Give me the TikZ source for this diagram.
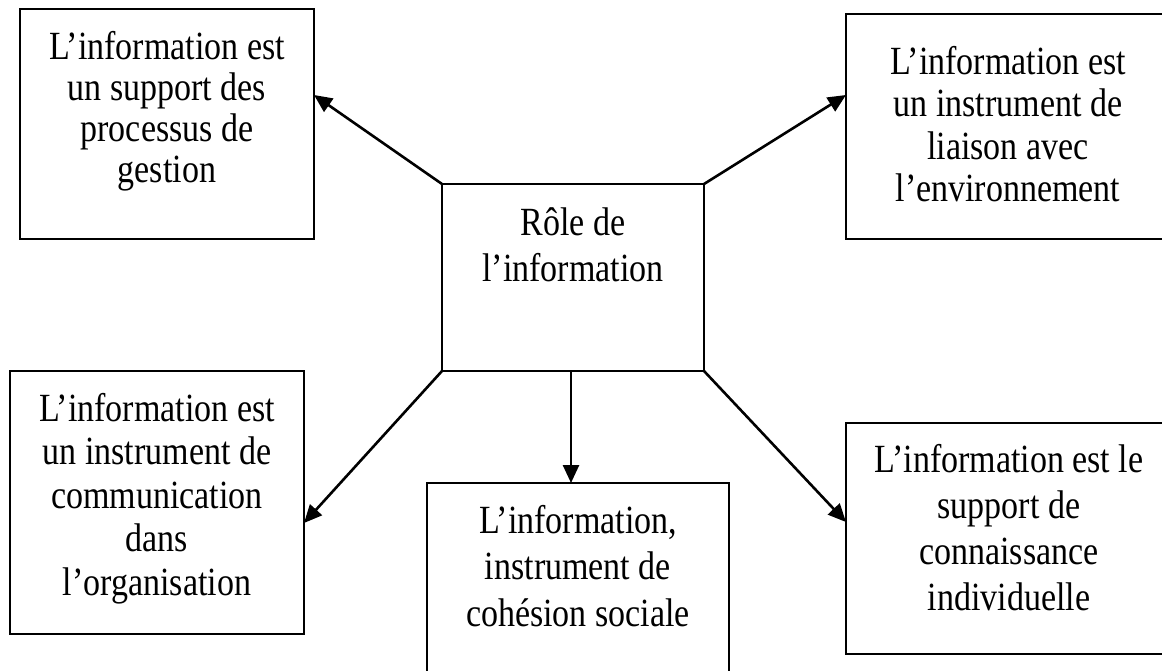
\documentclass[tikz,border=0pt]{standalone}
\usepackage{fontspec}
\setmainfont{Liberation Serif}[FakeStretch=0.85]
\usetikzlibrary{arrows.meta}

\tikzset{
  box/.style={draw=black, line width=1.8pt, fill=white, inner sep=0pt, outer sep=0pt},
  heavybox/.style={box, line width=2.8pt},
  txt/.style={align=center, inner sep=0pt, anchor=base, text=black},
  arr/.style={draw=black, line width=2.6pt, -{Triangle[length=18pt,width=16pt]}},
  edge/.style={draw=black, line width=2.8pt},
}

\begin{document}
\begin{tikzpicture}[x=1pt, y=-1pt]
  \clip (0,0) rectangle (1162,670);
  \fill[white] (0,0) rectangle (1162,670);

  % boxes
  \node[box, minimum width=262pt, minimum height=187pt] (c)  at (573,277.5) {};
  \node[box, minimum width=294pt, minimum height=230pt] (b1) at (167,124) {};
  \node[heavybox, minimum width=324pt, minimum height=225pt] (b2) at (1008,126.5) {};
  \node[box, minimum width=294pt, minimum height=263pt] (bl) at (157,502.5) {};
  \node[box, minimum width=302pt, minimum height=217pt] (bm) at (578,591.5) {};
  \node[box, minimum width=326pt, minimum height=231pt] (br) at (1009,538.5) {};

  % heavier edges
  \draw[edge] (b1.south west) -- (b1.south east);
  \draw[edge] (c.north east) -- (c.south east);
  \draw[edge] (br.north west) -- (br.south west);

  % texts (anchored on the baseline of their last line)
  \node[txt, font=\fontsize{40}{41.3}\selectfont] (t1) at (167,182.9)
    {L’information est\\un support des\\processus de\\gestion};
  \node[txt, font=\fontsize{40}{42.6}\selectfont] (t2) at (1008,201.8)
    {L’information est\\un instrument de\\liaison avec\\l’environnement};
  \node[txt, font=\fontsize{40}{46.7}\selectfont] (tc) at (573,281.7)
    {Rôle de\\l’information};
  \node[txt, font=\fontsize{40}{43.6}\selectfont] (tl) at (157,595.4)
    {L’information est\\un instrument de\\communication\\dans\\l’organisation};
  \node[txt, font=\fontsize{40}{46.7}\selectfont] (tm) at (578,626.4)
    {L’information,\\instrument de\\cohésion sociale};
  \node[txt, font=\fontsize{40}{46}\selectfont] (tr) at (1009,610)
    {L’information est le\\support de\\connaissance\\individuelle};

  % connectors
  \draw[arr] (c.north west) -- ([yshift=29pt]b1.east);
  \draw[arr] (c.north east) -- ([yshift=31.5pt]b2.west);
  \draw[arr] (c.south west) -- ([yshift=-20.5pt]bl.east);
  \draw[arr] ([xshift=-2pt]c.south) -- ([xshift=-2pt]c.south |- bm.north);
  \draw[arr] (c.south east) -- ([yshift=16.5pt]br.west);
\end{tikzpicture}
\end{document}
